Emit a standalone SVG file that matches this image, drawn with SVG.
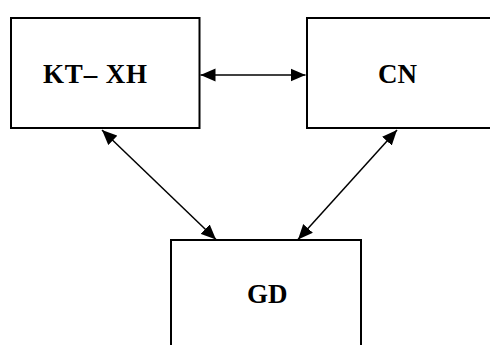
<svg xmlns="http://www.w3.org/2000/svg" width="490" height="345" viewBox="0 0 490 345">
<style>
.box{fill:#fff;stroke:#000;stroke-width:2}
.lbl{font-family:"Liberation Serif","Times New Roman",serif;font-size:27px;font-weight:bold;fill:#000}
.con{stroke:#000;stroke-width:1.5;fill:none;marker-start:url(#ah);marker-end:url(#ah)}
</style>
<defs>
<marker id="ah" markerUnits="userSpaceOnUse" markerWidth="16" markerHeight="14" refX="15" refY="6.5" orient="auto-start-reverse" viewBox="0 0 16 13">
<path d="M0,0 L15,6.5 L0,13 z" fill="#000"/>
</marker>
</defs>
<rect width="490" height="345" fill="#fff"/>
<g id="kt-xh">
<rect class="box" x="11" y="18" width="188.5" height="110"/>
<text class="lbl" x="43" y="83" textLength="104" lengthAdjust="spacing">KT– XH</text>
</g>
<g id="cn">
<rect class="box" x="307" y="18" width="200" height="110"/>
<text class="lbl" x="378" y="83">CN</text>
</g>
<g id="gd">
<rect class="box" x="171" y="240" width="190" height="120"/>
<text class="lbl" x="247" y="303">GD</text>
</g>
<g id="connectors">
<line class="con" x1="200.5" y1="75" x2="305.5" y2="75"/>
<line class="con" x1="102" y1="130" x2="216" y2="239.5"/>
<line class="con" x1="397" y1="130" x2="298" y2="239.5"/>
</g>
</svg>
